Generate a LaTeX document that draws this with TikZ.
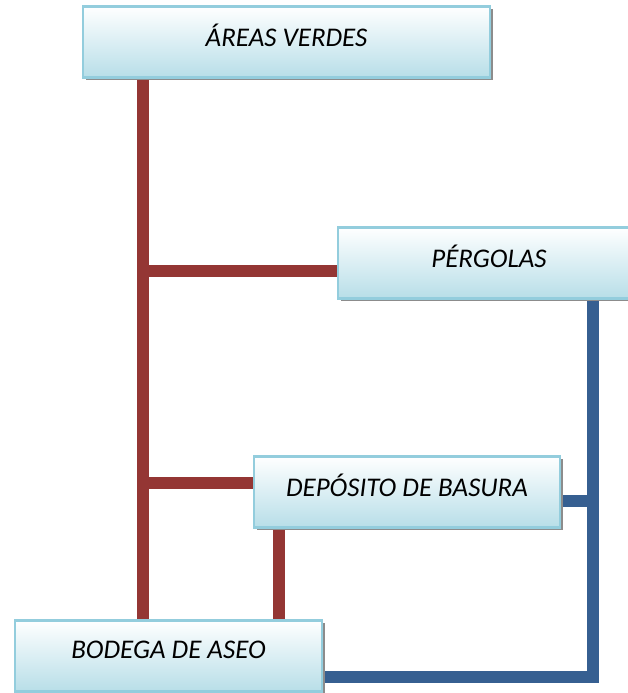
\documentclass[tikz,border=0pt]{standalone}
\usepackage{fontspec}
\setmainfont{Carlito}
\usepackage{tikz}
\usetikzlibrary{positioning,shadows,backgrounds}
\definecolor{boxrim}{HTML}{93CDDD}
\definecolor{boxlow}{HTML}{B7DEE8}
\definecolor{linkred}{HTML}{943634}
\definecolor{linkblue}{HTML}{365F91}
\tikzset{
  areabox/.style={draw=boxrim,line width=2.2pt,top color=white,bottom color=boxlow,
    minimum height=2.13cm,text depth=0.38cm,inner sep=2pt,
    font=\itshape\fontsize{23}{27}\selectfont,
    drop shadow={shadow xshift=2.5pt,shadow yshift=-2.5pt,fill=black!45,opacity=1}},
  redlink/.style={draw=linkred,line width=9.5pt},
  bluelink/.style={draw=linkblue,line width=9.5pt,line join=miter}
}

\begin{document}
\begin{tikzpicture}[x=0.03cm,y=-0.03cm]
\useasboundingbox (0,0) rectangle (628,693);
\node[areabox,minimum width=12.21cm] (areas) at (286.5,42) {ÁREAS VERDES};
\node[areabox,minimum width=9.06cm] (pergolas) at (489,263) {PÉRGOLAS};
\node[areabox,minimum width=9.18cm] (deposito) at (407,492) {DEPÓSITO DE BASURA};
\node[areabox,minimum width=9.21cm] (bodega) at (168.5,656) {BODEGA DE ASEO};
% junctions
\coordinate (jp) at (143,271);
\coordinate (jd) at (143,483);
\coordinate (jb) at (279,575);
\coordinate (jr) at (593,501);
\coordinate (jc) at (593,677);
\begin{pgfonlayer}{background}
\draw[redlink] (areas.south -| jp) -- (bodega.north -| jp);
\draw[redlink] (jp) -- (pergolas.west |- jp);
\draw[redlink] (jd) -- (deposito.west |- jd);
\draw[redlink] (deposito.south -| jb) -- (bodega.north -| jb);
\draw[bluelink] (pergolas.south -| jc) -- (jc) -- (bodega.east |- jc);
\draw[bluelink] (deposito.east |- jr) -- (jr);
\end{pgfonlayer}
\end{tikzpicture}
\end{document}
